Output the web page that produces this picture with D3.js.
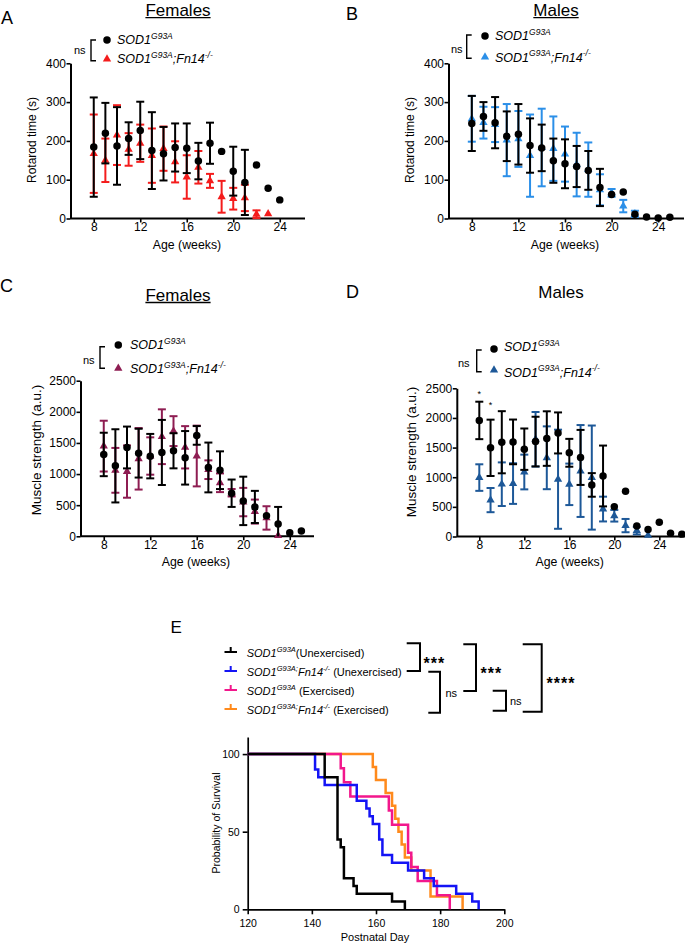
<!DOCTYPE html>
<html><head><meta charset="utf-8">
<script src="https://cdn.jsdelivr.net/npm/d3@7"></script>
<style>
body{margin:0;background:#fff}
svg{display:block}
text{font-family:"Liberation Sans",Arial,Helvetica,sans-serif;white-space:pre}
</style>
</head><body><svg id="c" width="685" height="945"></svg>
<script>
// ---------- DATA ----------
const xTicks = [8,12,16,20,24];
const yTicksRot = [0,100,200,300,400];
const yTicksMus = [0,500,1000,1500,2000,2500];
const survXTicks = [120,140,160,180,200];
const survYTicks = [0,50,100];

// Panel A (Females, rotarod)
const weeksA_sod = [8,9,10,11,12,13,14,15,16,17,18,19,20,21,22,23,24];
const meanA_sod  = [184,220,187,206,227,175,167,183,181,148,194,173,122,93,138,78,48];
const errA_sod   = [128,78,100,42,74,99,69,62,64,47,53,null,63,84,null,null,null];
const weeksA_fn  = [8,9,10,11,12,13,14,15,16,17,18,19,20,21,22,23];
const meanA_fn   = [167,150,215,178,194,162,180,146,107,132,97,56,51,53,11,12];
const errA_fn    = [101,56,77,42,48,70,57,53,56,42,18,41,28,34,10,null];

// Panel B (Males, rotarod)
const weeksB_sod = [8,9,10,11,12,13,14,15,16,17,18,19,20,21,22,23,24,25];
const meanB_sod  = [245,263,247,212,217,188,182,149,141,134,124,80,62,68,11,4,1,3];
const errB_sod   = [71,37,66,64,78,70,60,57,63,53,50,48,null,null,null,null,null,null];
const weeksB_fn  = [8,9,10,11,12,13,14,15,16,17,18,19,20,21,22];
const meanB_fn   = [257,247,242,202,205,162,183,180,166,139,126,74,66,32,12];
const errB_fn    = [59,41,45,93,72,106,100,83,71,82,70,40,10,16,8];

// Panel C (Females, muscle strength)
const weeksC_sod = [8,9,10,11,12,13,14,15,16,17,18,19,20,21,22,23,24,25];
const meanC_sod  = [1315,1132,1427,1336,1288,1347,1374,1261,1621,1106,1062,692,569,472,330,199,59,86];
const errC_sod   = [349,588,336,392,357,523,282,430,150,400,303,220,389,258,null,273,null,null];
const weeksC_fn  = [8,9,10,11,12,13,14,15,16,17,18,19,20,21,22,23];
const meanC_fn   = [1449,1060,1040,1245,1290,1600,1690,1430,1290,1070,860,700,550,397,295,10];
const errC_fn    = [408,360,420,494,300,440,240,340,488,150,150,60,228,193,188,null];

// Panel D (Males, muscle strength)
const weeksD_sod = [8,9,10,11,12,13,14,15,16,17,18,19,20,21,22,23,24,25,26];
const meanD_sod  = [1958,1496,1590,1596,1473,1601,1652,1747,1412,1334,870,1021,502,765,179,117,241,56,40];
const errD_sod   = [316,475,524,377,349,419,460,346,235,464,199,513,null,null,null,null,null,null,null];
const weeksD_fn  = [8,9,10,11,12,13,14,15,16,17,18,19,20,21,22,23];
const meanD_fn   = [994,614,882,893,1088,1640,1328,966,880,1105,994,463,350,184,100,20];
const errD_fn    = [224,204,368,343,293,460,530,836,350,775,878,209,98,112,65,null];
const sigD_weeks = [8,9];
const sigD_level = [2440,2260];

// Panel E (survival, Kaplan-Meier steps)
const survDays_sodU = [120,144,148,149,150,153,154,165,169];
const survPct_sodU  = [100,85,45,40,20,15,10,5,0];
const survDays_fnU  = [120,141,142,144,154,157,158,159,161,162,165,170,175,178,185,190,192];
const survPct_fnU   = [100,90,85,80,70,65,60,55,45,35,30,25,20,15,10,5,0];
const survDays_sodE = [120,149,150,152,164,165,170,171,173,179,183];
const survPct_sodE  = [100,90.9,81.8,72.7,63.6,54.5,36.4,27.3,18.2,9.1,0];
const survDays_fnE  = [120,159,160,163,165,166,167,168,169,171,177,187];
const survPct_fnE   = [100,91.7,83.3,75,66.7,58.3,50,41.7,33.3,25,8.3,0];

// ---------- DRAWING ----------
const svg = d3.select('#c');
const FONT_TICK = 12;
const FMT = d3.format('d');

function rich(g, x, y, parts, fs, ss, anchor) {
  const t = g.append('text').attr('x', x).attr('y', y).attr('font-size', fs).attr('fill', '#000');
  if (anchor) t.attr('text-anchor', anchor);
  let shifted = 0;
  parts.forEach(p => {
    const ts = t.append('tspan').text(p.t);
    const target = p.sup ? -fs * 0.42 : 0;
    ts.attr('dy', target - shifted); shifted = target;
    if (p.sup) ts.attr('font-size', ss);
    ts.attr('font-style', p.it === false ? 'normal' : 'italic');
  });
  return t;
}

function styleAxis(sel, fs) {
  sel.select('.domain').attr('stroke', '#000').attr('stroke-width', 2);
  sel.selectAll('.tick line').attr('stroke', '#000').attr('stroke-width', 1.6);
  sel.selectAll('.tick text').attr('font-size', fs).attr('fill', '#000')
     .attr('font-family', '"Liberation Sans",Arial,Helvetica,sans-serif');
}

function drawPanel(p) {
  const g = svg.append('g');
  const x = d3.scaleLinear().domain([6, 26]).range(p.xr);
  const y = d3.scaleLinear().domain(p.yd).range(p.yr);

  const xa = g.append('g').attr('transform', `translate(0,${p.yr[0]})`)
    .call(d3.axisBottom(x).tickValues(xTicks).tickFormat(FMT).tickSize(4).tickSizeOuter(0).tickPadding(0));
  styleAxis(xa, FONT_TICK);
  if (p.xEnd) xa.select('.domain').attr('d', `M${p.xr[0]},0H${p.xEnd}`);
  const ya = g.append('g').attr('transform', `translate(${p.xr[0]},0)`)
    .call(d3.axisLeft(y).tickValues(p.yt).tickFormat(FMT).tickSize(4).tickSizeOuter(0).tickPadding(0.5));
  styleAxis(ya, FONT_TICK);

  p.series.forEach(s => {
    const data = s.weeks.map((w, i) => ({w, m: s.mean[i], e: s.err[i]}));
    const eb = data.filter(d => d.e != null);
    const gg = g.append('g');
    gg.selectAll('line.v').data(eb).join('line')
      .attr('x1', d => x(d.w)).attr('x2', d => x(d.w))
      .attr('y1', d => y(Math.max(0, d.m - d.e))).attr('y2', d => y(d.m + d.e))
      .attr('stroke', s.color).attr('stroke-width', 2);
    gg.selectAll('line.t').data(eb).join('line')
      .attr('x1', d => x(d.w) - 4).attr('x2', d => x(d.w) + 4)
      .attr('y1', d => y(d.m + d.e)).attr('y2', d => y(d.m + d.e))
      .attr('stroke', s.color).attr('stroke-width', 2);
    gg.selectAll('line.b').data(eb.filter(d => d.m - d.e > 0)).join('line')
      .attr('x1', d => x(d.w) - 4).attr('x2', d => x(d.w) + 4)
      .attr('y1', d => y(d.m - d.e)).attr('y2', d => y(d.m - d.e))
      .attr('stroke', s.color).attr('stroke-width', 2);
    const sym = d3.symbol().type(s.shape === 'tri' ? d3.symbolTriangle : d3.symbolCircle)
      .size(s.shape === 'tri' ? 30 : 44);
    gg.selectAll('path.m').data(data).join('path')
      .attr('transform', d => `translate(${x(d.w)},${y(d.m)})`)
      .attr('d', sym).attr('fill', s.color);
  });

  // axis titles
  g.append('text').attr('font-size', p.ylFs).attr('text-anchor', 'middle')
    .attr('transform', `translate(${p.ylX},${p.ylY}) rotate(-90)`).text(p.ylabel);
  g.append('text').attr('font-size', 12.3).attr('text-anchor', 'middle')
    .attr('x', p.xlX).attr('y', p.xlY).text('Age (weeks)');

  // title
  const tt = g.append('text').attr('font-size', 17).attr('text-anchor', 'middle')
    .attr('x', p.tX).attr('y', p.tY).text(p.title);
  if (p.underline) {
    const w = tt.node().getComputedTextLength();
    g.append('line').attr('x1', p.tX - w / 2).attr('x2', p.tX + w / 2)
      .attr('y1', p.tY + 1.8).attr('y2', p.tY + 1.8).attr('stroke', '#000').attr('stroke-width', 1.3);
  }
  // letter
  g.append('text').attr('font-size', 18).attr('x', p.lX).attr('y', p.lY).text(p.letter);

  // legend
  const L = p.leg;
  g.append('text').attr('font-size', 11).attr('x', L.nsX).attr('y', L.nsY).text('ns');
  g.append('path').attr('d', `M${L.bx + 5},${L.by1}H${L.bx}V${L.by2}H${L.bx + 5}`)
    .attr('fill', 'none').attr('stroke', '#000').attr('stroke-width', 1.4);
  g.append('path').attr('transform', `translate(${L.mx},${L.my1})`)
    .attr('d', d3.symbol().type(d3.symbolCircle).size(44)).attr('fill', '#000');
  g.append('path').attr('transform', `translate(${L.mx},${L.my2})`)
    .attr('d', d3.symbol().type(d3.symbolTriangle).size(30)).attr('fill', p.series[0].color);
  rich(g, L.tx, L.ty1, [{t: 'SOD1'}, {t: 'G93A', sup: true}], 12.5, 8.5);
  rich(g, L.tx, L.ty2, [{t: 'SOD1'}, {t: 'G93A', sup: true}, {t: ';Fn14'}, {t: '-/-', sup: true}], 12.5, 8.5);
  return {g, x, y};
}

drawPanel({
  xr: [70.5, 303], xEnd: 305, yr: [218.5, 63.3], yd: [0, 400], yt: yTicksRot,
  series: [
    {weeks: weeksA_fn, mean: meanA_fn, err: errA_fn, color: '#f41c1c', shape: 'tri'},
    {weeks: weeksA_sod, mean: meanA_sod, err: errA_sod, color: '#000', shape: 'circle'}
  ],
  ylabel: 'Rotarod time (s)', ylFs: 12, ylX: 36, ylY: 140, xlX: 187, xlY: 248.5,
  title: 'Females', underline: true, tX: 178, tY: 15.8, letter: 'A', lX: 1, lY: 24,
  leg: {nsX: 74, nsY: 53.5, bx: 91, by1: 40, by2: 60.7, mx: 107, my1: 40, my2: 59, tx: 117, ty1: 44.3, ty2: 63.3}
});

drawPanel({
  xr: [448.5, 681.5], xEnd: 684, yr: [218.5, 63.3], yd: [0, 400], yt: yTicksRot,
  series: [
    {weeks: weeksB_fn, mean: meanB_fn, err: errB_fn, color: '#2b8fe8', shape: 'tri'},
    {weeks: weeksB_sod, mean: meanB_sod, err: errB_sod, color: '#000', shape: 'circle'}
  ],
  ylabel: 'Rotarod time (s)', ylFs: 12, ylX: 414, ylY: 140, xlX: 565, xlY: 248.5,
  title: 'Males', underline: true, tX: 556, tY: 15.8, letter: 'B', lX: 346, lY: 20,
  leg: {nsX: 451, nsY: 52.5, bx: 466.7, by1: 35, by2: 58.3, mx: 485, my1: 36, my2: 57, tx: 495, ty1: 40, ty2: 61.7}
});

drawPanel({
  xr: [80.5, 313], xEnd: 314, yr: [536.3, 380.7], yd: [0, 2500], yt: yTicksMus,
  series: [
    {weeks: weeksC_fn, mean: meanC_fn, err: errC_fn, color: '#8e1d52', shape: 'tri'},
    {weeks: weeksC_sod, mean: meanC_sod, err: errC_sod, color: '#000', shape: 'circle'}
  ],
  ylabel: 'Muscle strength (a.u.)', ylFs: 13.5, ylX: 41, ylY: 450, xlX: 196, xlY: 565.5,
  title: 'Females', underline: true, tX: 178, tY: 300.7, letter: 'C', lX: 0, lY: 292,
  leg: {nsX: 83, nsY: 363.5, bx: 100, by1: 346.7, by2: 368.3, mx: 118.3, my1: 345, my2: 368.3, tx: 130, ty1: 349, ty2: 373.3}
});

const pD = drawPanel({
  xr: [456.8, 681.8], xEnd: 685, yr: [536.5, 388.3], yd: [0, 2500], yt: yTicksMus,
  series: [
    {weeks: weeksD_fn, mean: meanD_fn, err: errD_fn, color: '#1d5898', shape: 'tri'},
    {weeks: weeksD_sod, mean: meanD_sod, err: errD_sod, color: '#000', shape: 'circle'}
  ],
  ylabel: 'Muscle strength (a.u.)', ylFs: 13.5, ylX: 416, ylY: 452, xlX: 569.7, xlY: 566,
  title: 'Males', underline: false, tX: 561, tY: 298.3, letter: 'D', lX: 346, lY: 298.3,
  leg: {nsX: 458, nsY: 366.5, bx: 476.7, by1: 350, by2: 371.7, mx: 494, my1: 349, my2: 370, tx: 504, ty1: 351, ty2: 376.7}
});
pD.g.selectAll('text.sig').data(sigD_weeks).join('text').attr('class', 'sig')
  .attr('font-size', 9).attr('text-anchor', 'middle')
  .attr('x', d => pD.x(d)).attr('y', (d, i) => pD.y(sigD_level[i]) + 5).text('*');

// ---------- Panel E ----------
(function () {
  const g = svg.append('g');
  const x = d3.scaleLinear().domain([120, 200]).range([247.7, 504.3]);
  const y = d3.scaleLinear().domain([0, 111]).range([909.3, 737]);
  const xa = g.append('g').attr('transform', 'translate(0,909.3)')
    .call(d3.axisBottom(x).tickValues(survXTicks).tickFormat(FMT).tickSize(5).tickSizeOuter(0).tickPadding(5.5));
  styleAxis(xa, 10.5);
  const ya = g.append('g').attr('transform', 'translate(247.7,0)')
    .call(d3.axisLeft(y).tickValues(survYTicks).tickFormat(FMT).tickSize(5).tickSizeOuter(0).tickPadding(3));
  styleAxis(ya, 10.5);
  xa.select('.domain').attr('stroke-width', 1.7);
  ya.select('.domain').attr('stroke-width', 1.7);

  const curves = [
    {d: survDays_fnE, p: survPct_fnE, c: '#ff8a1c'},
    {d: survDays_sodE, p: survPct_sodE, c: '#f2178c'},
    {d: survDays_fnU, p: survPct_fnU, c: '#1414f5'},
    {d: survDays_sodU, p: survPct_sodU, c: '#000000'}
  ];
  const line = d3.line().x(d => x(d[0])).y(d => y(d[1])).curve(d3.curveStepAfter);
  curves.forEach(cv => {
    g.append('path').datum(cv.d.map((dd, i) => [dd, cv.p[i]]))
      .attr('d', line).attr('fill', 'none').attr('stroke', cv.c).attr('stroke-width', 2.5);
  });

  g.append('text').attr('font-size', 10.5).attr('text-anchor', 'middle')
    .attr('transform', 'translate(220,823) rotate(-90)').text('Probability of Survival');
  g.append('text').attr('font-size', 11).attr('text-anchor', 'middle')
    .attr('x', 375).attr('y', 941).text('Postnatal Day');
  g.append('text').attr('font-size', 17).attr('x', 170.5).attr('y', 633.3).text('E');

  // legend
  const rowsY = [657, 676, 695, 714];
  const legCols = ['#000000', '#1414f5', '#f2178c', '#ff8a1c'];
  const legParts = [
    [{t: 'SOD1'}, {t: 'G93A', sup: true}, {t: '(Unexercised)', it: false}],
    [{t: 'SOD1'}, {t: 'G93A;', sup: true}, {t: 'Fn14'}, {t: '-/-', sup: true}, {t: ' (Unexercised)', it: false}],
    [{t: 'SOD1'}, {t: 'G93A', sup: true}, {t: ' (Exercised)', it: false}],
    [{t: 'SOD1'}, {t: 'G93A;', sup: true}, {t: 'Fn14'}, {t: '-/-', sup: true}, {t: ' (Exercised)', it: false}]
  ];
  rowsY.forEach((ry, i) => {
    g.append('path').attr('d', `M224.5,${ry - 5}H237M230.7,${ry - 5}V${ry - 10}`)
      .attr('stroke', legCols[i]).attr('stroke-width', 2).attr('fill', 'none');
    rich(g, 246.7, ry, legParts[i], 11, 7.5);
  });

  // significance brackets
  const br = [
    {l: 406.7, r: 420, t: 643.3, b: 671, lab: '***', lx: 423.5, ly: 669, bold: true},
    {l: 428.3, r: 440, t: 671.7, b: 712.7, lab: 'ns', lx: 445.5, ly: 697, bold: false},
    {l: 463.3, r: 476, t: 644.3, b: 691, lab: '***', lx: 480.5, ly: 679, bold: true},
    {l: 492.7, r: 506, t: 690.7, b: 710.7, lab: 'ns', lx: 510, ly: 705, bold: false},
    {l: 522.7, r: 541.7, t: 644.3, b: 711.7, lab: '****', lx: 546.5, ly: 689, bold: true}
  ];
  br.forEach(b => {
    g.append('path').attr('d', `M${b.l},${b.t}H${b.r}V${b.b}H${b.l}`)
      .attr('fill', 'none').attr('stroke', '#000').attr('stroke-width', 2);
    const t = g.append('text').attr('x', b.lx).attr('y', b.ly).text(b.lab);
    if (b.bold) t.attr('font-size', 16).attr('font-weight', 'bold').attr('letter-spacing', 1);
    else t.attr('font-size', 11);
  });
})();
</script>
</body></html>
